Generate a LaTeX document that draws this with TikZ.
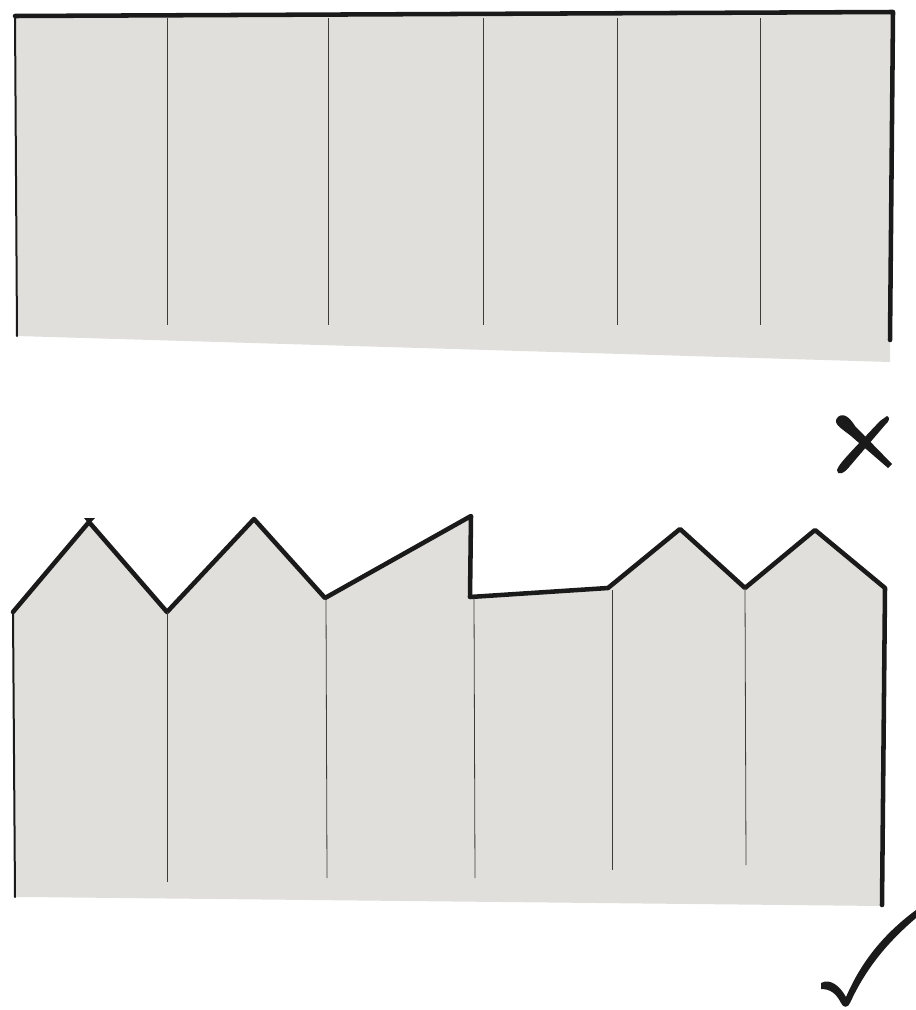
\documentclass[tikz,border=0pt]{standalone}
\begin{document}
\begin{tikzpicture}[x=0.75pt,y=-0.75pt,
  panel/.style={fill=paper,draw=none},
  edge/.style={line width=3.4pt,line join=round,line cap=round,draw=ink},
  thinedge/.style={line width=1.5pt,line cap=round,draw=ink},
  divider/.style={line width=0.6pt,draw=ink!85},
  brush/.style={fill=ink,draw=none}]
\definecolor{paper}{HTML}{E0DFDB}
\definecolor{ink}{HTML}{1A1A1A}
\useasboundingbox (0,0) rectangle (916,1010);
% ---- top panel (wrong) ----
\fill[paper] (15,15) -- (893,12) -- (890,362) -- (17,336) -- cycle;
\draw[thinedge] (15,16) -- (17,336);
\draw[edge] (15,16) -- (893,12) -- (890,340);
\foreach \x in {167,328,483,617,760}
  \draw[divider] (\x,18) -- (\x,325);
% ---- cross ----
\fill[brush] (837,418) .. controls (842,412) and (849,416) .. (855,426)
  -- (892,464) -- (888,468) -- (851,436) .. controls (841,428) and (833,424) .. cycle;
\fill[brush] (887,416) .. controls (890,417) and (890,421) .. (885,425)
  -- (850,466) .. controls (844,474) and (837,476) .. (837,470)
  .. controls (839,464) and (845,458) .. (880,421) -- cycle;
% ---- bottom panel (right) ----
\fill[paper] (13,612) -- (89,522) -- (167,612) -- (254,519) -- (325,598)
  -- (471,516) -- (470,597) -- (608,588) -- (680,529) -- (745,588)
  -- (815,530) -- (885,588) -- (882,906) -- (25,897) -- (15,897) -- cycle;
\draw[thinedge] (13,612) -- (15,897);
\draw[edge] (13,612) -- (89,522) -- (167,612) -- (254,519) -- (325,598)
  -- (471,516) -- (470,597) -- (608,588) -- (680,529) -- (745,588)
  -- (815,530) -- (885,588) -- (882,905);
\fill[ink] (84,518) -- (95,518) -- (89,524) -- cycle;
\draw[divider] (167,612) -- (167,882);
\draw[divider] (326,598) -- (327,878);
\draw[divider] (474,598) -- (475,878);
\draw[divider] (612,590) -- (612,870);
\draw[divider] (745,588) -- (746,865);
% ---- check mark ----
\fill[brush] (821,983) .. controls (830,978) and (840,986) .. (846,997)
  .. controls (862,960) and (885,933) .. (916,910) -- (916,918)
  .. controls (888,942) and (866,968) .. (850,1003)
  .. controls (848,1008) and (843,1008) .. (841,1003)
  .. controls (836,993) and (830,989) .. (821,989) -- cycle;
\end{tikzpicture}
\end{document}
